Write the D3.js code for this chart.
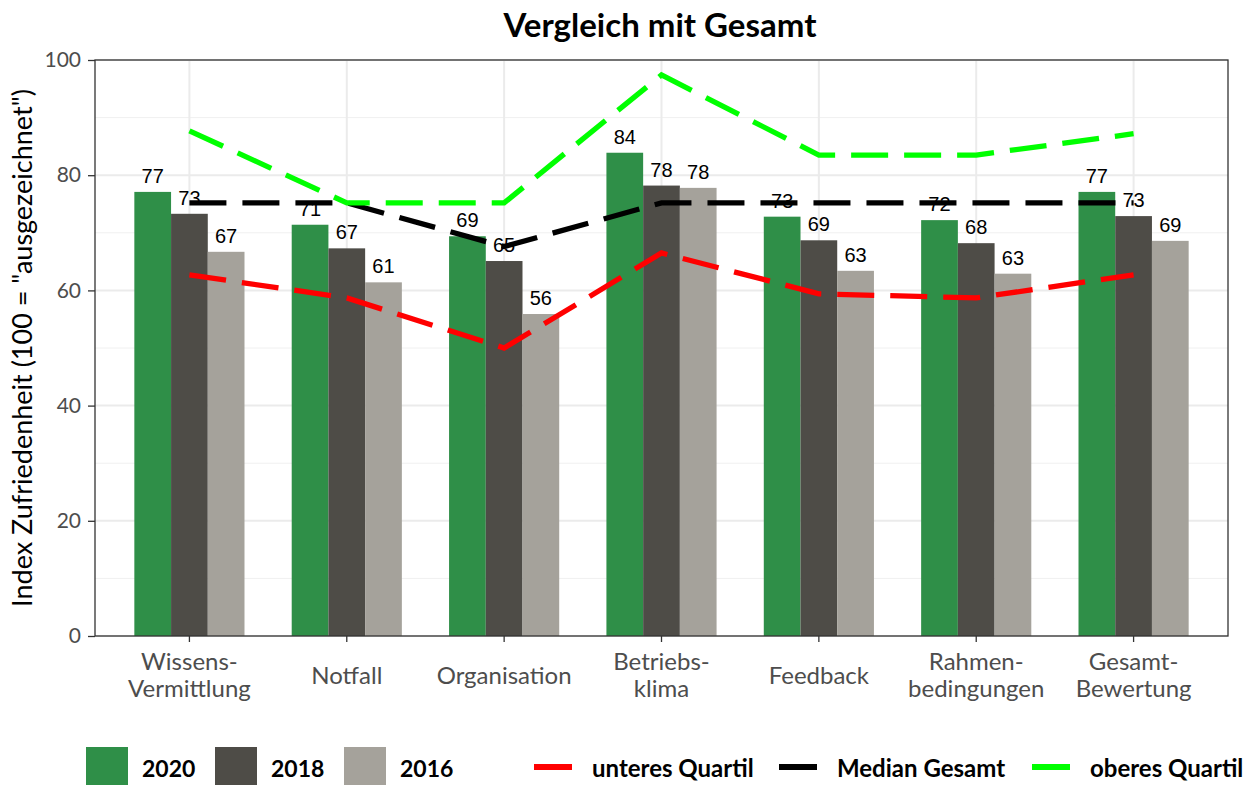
<!DOCTYPE html>
<html>
<head>
<meta charset="utf-8">
<script src="https://cdn.jsdelivr.net/npm/d3@7"></script>
<style>
  body { margin: 0; background: #fff; }
  svg { display: block; }
</style>
</head>
<body>
<div id="vis"></div>
<script>
// categories and values
const categories = ["Wissens-\nVermittlung", "Notfall", "Organisation", "Betriebs-\nklima", "Feedback", "Rahmen-\nbedingungen", "Gesamt-\nBewertung"]
const years = ["2020", "2018", "2016"]
const values2020 = [77.1, 71.4, 69.4, 83.9, 72.8, 72.2, 77.1]
const values2018 = [73.3, 67.3, 65.1, 78.2, 68.7, 68.2, 72.9]
const values2016 = [66.7, 61.4, 55.9, 77.8, 63.4, 62.9, 68.6]
const lowerQuartile = [62.7, 58.7, 50.0, 66.5, 59.4, 58.7, 62.7]
const medianTotal = [75.2, 75.2, 67.6, 75.2, 75.2, 75.2, 75.2]
const upperQuartile = [87.7, 75.2, 75.2, 97.4, 83.5, 83.5, 87.2]
const yTicks = [0, 20, 40, 60, 80, 100]

const width = 1248
const height = 785
const margin = {left: 95, right: 20, top: 60, bottom: 149}

const barColors = {"2020": "#2f8f48", "2018": "#4e4c47", "2016": "#a5a29b"}
const seriesByYear = {"2020": values2020, "2018": values2018, "2016": values2016}

const calibri = "Lato, 'Open Sans', sans-serif"

const svg = d3.select("#vis")
  .append("svg")
  .attr("width", width)
  .attr("height", height)

const x = d3.scaleBand()
  .domain(categories)
  .range([margin.left, width - margin.right])
  .paddingInner(0.3)
  .paddingOuter(0.25)

const xInner = d3.scaleBand()
  .domain(years)
  .range([0, x.bandwidth()])

const y = d3.scaleLinear()
  .domain([0, 100])
  .range([height - margin.bottom, margin.top])

const plotLeft = margin.left, plotRight = width - margin.right
const plotTop = margin.top, plotBottom = height - margin.bottom

// grid
svg.append("g")
  .selectAll("line.minor")
  .data(d3.range(10, 100, 20))
  .enter()
  .append("line")
    .attr("x1", plotLeft).attr("x2", plotRight)
    .attr("y1", d => y(d)).attr("y2", d => y(d))
    .attr("stroke", "#f0f0f0")
    .attr("stroke-width", 1)

svg.append("g")
  .selectAll("line.major")
  .data(yTicks)
  .enter()
  .append("line")
    .attr("x1", plotLeft).attr("x2", plotRight)
    .attr("y1", d => y(d)).attr("y2", d => y(d))
    .attr("stroke", "#ebebeb")
    .attr("stroke-width", 2)

svg.append("g")
  .selectAll("line.vgrid")
  .data(categories)
  .enter()
  .append("line")
    .attr("x1", d => x(d) + x.bandwidth() / 2).attr("x2", d => x(d) + x.bandwidth() / 2)
    .attr("y1", plotTop).attr("y2", plotBottom)
    .attr("stroke", "#ebebeb")
    .attr("stroke-width", 2)

// bars
const groups = svg.append("g")
  .selectAll("g")
  .data(categories)
  .enter()
  .append("g")
    .attr("transform", d => `translate(${x(d)},0)`)

groups.selectAll("rect")
  .data((d, i) => years.map(yr => ({year: yr, value: seriesByYear[yr][i]})))
  .enter()
  .append("rect")
    .attr("x", d => xInner(d.year))
    .attr("y", d => y(d.value))
    .attr("width", xInner.bandwidth())
    .attr("height", d => y(0) - y(d.value))
    .attr("fill", d => barColors[d.year])

// lines
const line = d3.line()
  .x((d, i) => x(categories[i]) + x.bandwidth() / 2)
  .y(d => y(d))

const lineSeries = [
  {name: "unteres Quartil", values: lowerQuartile, color: "#ff0000"},
  {name: "Median Gesamt", values: medianTotal, color: "#000000"},
  {name: "oberes Quartil", values: upperQuartile, color: "#00ff00"}
]

svg.append("g")
  .selectAll("path")
  .data(lineSeries)
  .enter()
  .append("path")
    .attr("d", d => line(d.values))
    .attr("fill", "none")
    .attr("stroke", d => d.color)
    .attr("stroke-width", 5.3)
    .attr("stroke-dasharray", "37,16")

// value labels
groups.selectAll("text")
  .data((d, i) => years.map(yr => ({year: yr, value: seriesByYear[yr][i]})))
  .enter()
  .append("text")
    .attr("x", d => xInner(d.year) + xInner.bandwidth() / 2)
    .attr("y", d => y(d.value) - 9)
    .attr("text-anchor", "middle")
    .style("font-family", "'Liberation Sans', Arial, sans-serif")
    .style("font-size", "20px")
    .attr("fill", "#000")
    .text(d => Math.round(d.value))

// panel border
svg.append("rect")
  .attr("x", plotLeft).attr("y", plotTop)
  .attr("width", plotRight - plotLeft).attr("height", plotBottom - plotTop)
  .attr("fill", "none")
  .attr("stroke", "#333")
  .attr("stroke-width", 1.3)

// y axis
const yAxis = svg.append("g")
  .attr("transform", `translate(${plotLeft},0)`)
  .call(d3.axisLeft(y).tickValues(yTicks).tickSize(7).tickPadding(7))
yAxis.select(".domain").remove()
yAxis.selectAll(".tick line").attr("stroke", "#333").attr("stroke-width", 1.3)
yAxis.selectAll("text")
  .style("font-family", calibri)
  .style("font-size", "21px")
  .attr("fill", "#4d4d4d")

// x axis
const xAxis = svg.append("g")
  .attr("transform", `translate(0,${plotBottom})`)
  .call(d3.axisBottom(x).tickSize(6).tickFormat(""))
xAxis.select(".domain").remove()
xAxis.selectAll(".tick line").attr("stroke", "#333").attr("stroke-width", 1.3)

svg.append("g")
  .selectAll("text")
  .data(categories)
  .enter()
  .append("text")
    .attr("text-anchor", "middle")
    .attr("transform", d => `translate(${x(d) + x.bandwidth() / 2},0)`)
    .style("font-family", calibri)
    .style("font-size", "24px")
    .attr("fill", "#4d4d4d")
    .each(function(d) {
      const parts = d.split("\n")
      const t = d3.select(this)
      const base = parts.length === 1 ? 684 : 670
      parts.forEach((p, i) => {
        t.append("tspan").attr("x", 0).attr("y", base + i * 27).text(p)
      })
    })

// y title
svg.append("text")
  .attr("transform", `translate(32,${(plotTop + plotBottom) / 2}) rotate(-90)`)
  .attr("text-anchor", "middle")
  .style("font-family", calibri)
  .style("font-size", "27px")
  .attr("fill", "#000")
  .text('Index Zufriedenheit (100 = "ausgezeichnet")')

// title
svg.append("text")
  .attr("x", 660)
  .attr("y", 37)
  .attr("text-anchor", "middle")
  .style("font-family", calibri)
  .style("font-size", "33px")
  .style("font-weight", "bold")
  .text("Vergleich mit Gesamt")

// legend
const legendY = 767
const barLegend = [
  {label: "2020", x: 86}, {label: "2018", x: 215}, {label: "2016", x: 344}
]
const legend = svg.append("g")
legend.selectAll("rect")
  .data(barLegend)
  .enter()
  .append("rect")
    .attr("x", d => d.x).attr("y", 747)
    .attr("width", 42).attr("height", 42)
    .attr("fill", d => barColors[d.label])
legend.selectAll("text.bar")
  .data(barLegend)
  .enter()
  .append("text")
    .attr("x", d => d.x + 56).attr("y", 777)
    .style("font-family", calibri)
    .style("font-size", "23px")
    .style("font-weight", "bold")
    .text(d => d.label)

const lineLegend = [
  {s: lineSeries[0], x: 534}, {s: lineSeries[1], x: 779}, {s: lineSeries[2], x: 1032}
]
legend.selectAll("line")
  .data(lineLegend)
  .enter()
  .append("line")
    .attr("x1", d => d.x).attr("x2", d => d.x + 38)
    .attr("y1", legendY).attr("y2", legendY)
    .attr("stroke", d => d.s.color)
    .attr("stroke-width", 6)
legend.selectAll("text.line")
  .data(lineLegend)
  .enter()
  .append("text")
    .attr("x", d => d.x + 58).attr("y", 777)
    .style("font-family", calibri)
    .style("font-size", "24px")
    .style("font-weight", "bold")
    .text(d => d.s.name)
</script>
</body>
</html>
